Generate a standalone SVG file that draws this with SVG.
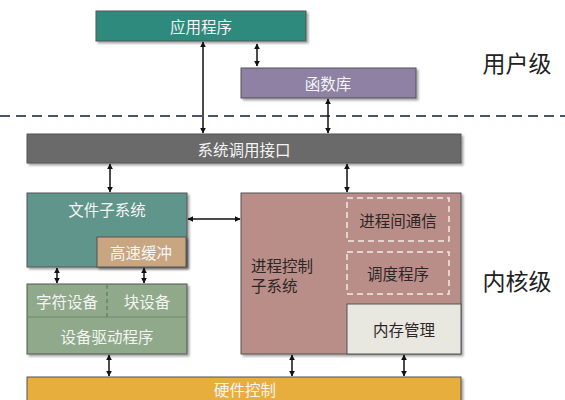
<svg xmlns="http://www.w3.org/2000/svg" width="565" height="400" viewBox="0 0 565 400">
<defs>
<style>
.box{stroke:#555;stroke-width:1;filter:url(#sh)}
.t{font-family:"Noto Sans CJK SC","Noto Sans",sans-serif;font-size:15.5px;fill:#f4f4f4;text-anchor:middle;dominant-baseline:central}
.d{fill:#2e2626}
.big{font-family:"Noto Sans CJK SC","Noto Sans",sans-serif;font-size:23px;fill:#222;text-anchor:middle;dominant-baseline:central}
.c{stroke:#111;stroke-width:1.5;fill:none;marker-start:url(#ah);marker-end:url(#ah)}
.dash{fill:none;stroke:#f2ece8;stroke-width:1.5;stroke-dasharray:6,4}
</style>
<marker id="ah" viewBox="0 0 10 10" refX="9" refY="5" markerWidth="6" markerHeight="6" orient="auto-start-reverse" markerUnits="userSpaceOnUse"><path d="M0,0L10,5L0,10z" fill="#111"/></marker>
<filter id="sh" x="-5%" y="-5%" width="115%" height="130%"><feDropShadow dx="2" dy="2" stdDeviation="1.2" flood-color="#000" flood-opacity="0.35"/></filter>
</defs>
<rect width="565" height="400" fill="#fff"/>
<line x1="0" y1="116" x2="565" y2="116" stroke="#46546e" stroke-width="2" stroke-dasharray="10,6"/>
<text class="big" x="517" y="62">用户级</text>
<text class="big" x="517" y="280">内核级</text>
<g id="app"><rect class="box" x="96" y="11" width="210" height="30" fill="#2e8a7b"/><text class="t" x="201" y="26">应用程序</text></g>
<g id="lib"><rect class="box" x="241" y="68" width="175" height="30" fill="#8e81a3"/><text class="t" x="328" y="83">函数库</text></g>
<g id="syscall"><rect class="box" x="27" y="134" width="434" height="29" fill="#6a6a6a"/><text class="t" x="244" y="148.5">系统调用接口</text></g>
<g id="fs"><rect class="box" x="27" y="193" width="160" height="74" fill="#5f958a"/><text class="t" x="107" y="209">文件子系统</text></g>
<g id="cache"><rect class="box" x="97" y="237" width="89" height="30" fill="#c9a682"/><text class="t" x="141" y="252">高速缓冲</text></g>
<g id="proc"><rect class="box" x="241" y="193" width="220" height="161" fill="#b98e88"/><text class="t d" x="251" y="265" style="text-anchor:start">进程控制</text><text class="t d" x="251" y="285" style="text-anchor:start">子系统</text></g>
<g id="ipc"><rect class="dash" x="347" y="198" width="102" height="43"/><text class="t d" x="398" y="219.5">进程间通信</text></g>
<g id="sched"><rect class="dash" x="347" y="252" width="102" height="42"/><text class="t d" x="398" y="273">调度程序</text></g>
<g id="mem"><rect x="347" y="304" width="114" height="50" fill="#e8e7e0" stroke="#555"/><text class="t d" x="404" y="329">内存管理</text></g>
<g id="dev"><rect class="box" x="27" y="284" width="160" height="70" fill="#8fa98a"/><line x1="27" y1="317" x2="187" y2="317" stroke="#6e8a6a" stroke-width="1"/><line x1="107" y1="285" x2="107" y2="317" stroke="#5f7a5c" stroke-width="1.2" stroke-dasharray="4,3"/><text class="t" x="67" y="300.5">字符设备</text><text class="t" x="147" y="300.5">块设备</text><text class="t" x="107" y="335.5">设备驱动程序</text></g>
<g id="hw"><rect class="box" x="27" y="377" width="434" height="30" fill="#e7ae3e"/><text class="t" x="245" y="389">硬件控制</text></g>
<g id="connectors">
<line class="c" x1="203" y1="42" x2="203" y2="133"/>
<line class="c" x1="257" y1="44" x2="257" y2="66"/>
<line class="c" x1="328" y1="99" x2="328" y2="133"/>
<line class="c" x1="110" y1="164" x2="110" y2="192"/>
<line class="c" x1="347" y1="164" x2="347" y2="192"/>
<line class="c" x1="188" y1="219" x2="240" y2="219"/>
<line class="c" x1="57" y1="268" x2="57" y2="283"/>
<line class="c" x1="144" y1="268" x2="144" y2="283"/>
<line class="c" x1="109" y1="355" x2="109" y2="376"/>
<line class="c" x1="292" y1="355" x2="292" y2="376"/>
<line class="c" x1="404" y1="355" x2="404" y2="376"/>
</g>
</svg>
